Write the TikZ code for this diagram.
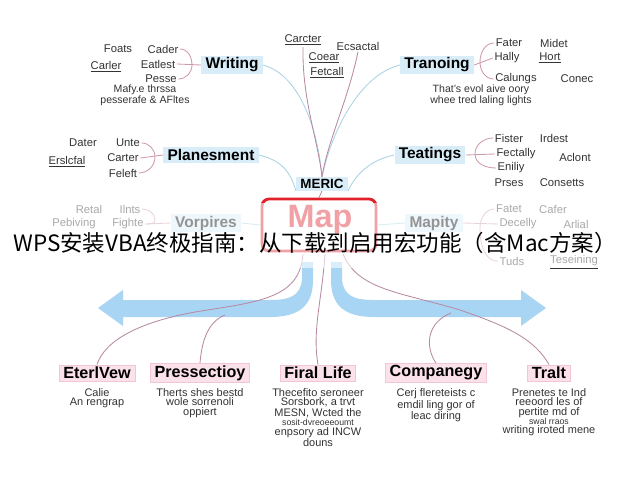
\documentclass[tikz,border=0pt]{standalone}
\usepackage{fontspec}
\setmainfont{Liberation Sans}
\newfontfamily\cjk{Noto Sans CJK SC}
\usetikzlibrary{shapes,positioning}
\definecolor{topicblue}{HTML}{D8EDF8}
\definecolor{linkblue}{HTML}{A9D3E3}
\definecolor{twigpink}{HTML}{CF9AAA}
\definecolor{stempink}{HTML}{B88AA2}
\definecolor{subpink}{HTML}{FBE2EA}
\definecolor{subedge}{HTML}{F2C6D4}
\definecolor{arrowblue}{HTML}{A8D5F4}
\definecolor{mapred}{HTML}{E0202A}
\definecolor{inkgray}{HTML}{333333}

\begin{document}
\begin{tikzpicture}[x=0.025cm,y=-0.025cm]
    \tikzstyle{topic}=[fill=topicblue, inner xsep=3pt, inner ysep=1.5pt, font=\fontsize{11}{12}\selectfont\bfseries]
    \tikzstyle{sub}=[fill=subpink, draw=subedge, line width=0.6pt, inner xsep=3pt, inner ysep=1.5pt, font=\fontsize{11.5}{12}\selectfont\bfseries]
    \tikzstyle{leaf}=[inner sep=1pt, font=\fontsize{8}{9}\selectfont, text=inkgray]
    \tikzstyle{note}=[align=center, inner sep=1pt, font=\fontsize{7.8}{6.6}\selectfont, text=inkgray]
    \tikzstyle{link}=[linkblue, line width=0.6pt]
    \tikzstyle{stem}=[stempink, line width=0.6pt]
    \tikzstyle{twig}=[twigpink, line width=0.6pt]

    \useasboundingbox (0,0) rectangle (640,480);
    \fill[white] (0,0) rectangle (640,480);

    \fill[arrowblue] (302,262) -- (302,280) .. controls (300,296) and (290,300) .. (270,300) -- (123,300) -- (123,290) -- (98,308) -- (123,326) -- (123,317) -- (270,317) .. controls (300,317) and (313,305) .. (313,280) -- (313,262) -- cycle;
    \fill[arrowblue] (342,262) -- (342,280) .. controls (344,296) and (354,300) .. (374,300) -- (521,300) -- (521,290) -- (546,308) -- (521,326) -- (521,317) -- (374,317) .. controls (344,317) and (331,305) .. (331,280) -- (331,262) -- cycle;

    \node[topic] (writing) at (232,65) {Writing};
    \node[topic] (tranoing) at (437,65) {Tranoing};
    \node[topic] (planesment) at (211,155) {Planesment};
    \node[topic] (teatings) at (430,155) {Teatings};
    \node[topic, font=\fontsize{9.5}{10}\selectfont\bfseries] (meric) at (322,184) {MERIC};
    \node[topic] (vorpires) at (206,223) {Vorpires};
    \node[topic] (mapity) at (434,223) {Mapity};
    \node[draw=mapred, line width=2pt, rounded corners=5pt, minimum width=2.85cm, minimum height=1.3cm] (map) at (319,225) {};
    \node[text=mapred, inner sep=0pt, font=\fontsize{23}{24}\selectfont\bfseries] (maplabel) at (320,220) {Map};

    \node[leaf] (w1) at (118,49) {Foats};
    \node[leaf] (w2) at (163,49) {Cader};
    \node[leaf] (w3) at (106,67) {\underline{Carler}};
    \node[leaf] (w4) at (158,64) {Eatlest};
    \node[leaf] (w5) at (161,79) {Pesse};
    \node[note, font=\fontsize{7.5}{6.6}\selectfont] (w6) at (145,95) {Mafy.e thrssa\\pesserafe \& AFltes};
    \coordinate (wj) at (192,65);
    \draw[twig] (w2.east) to[out=0,in=90] (wj) to[out=-90,in=0] (w5.east);
    \draw[twig] (w4.east) -- (writing.west);

    \node[leaf] (c1) at (303,40) {\underline{Carcter}};
    \node[leaf] (c2) at (358,46) {Ecsactal};
    \node[leaf] (c3) at (324,58) {\underline{Coear}};
    \node[leaf] (c4) at (327,73) {\underline{Fetcall}};

    \node[leaf] (t1) at (509,43) {Fater};
    \node[leaf] (t2) at (554,43) {Midet};
    \node[leaf] (t3) at (507,58) {Hally};
    \node[leaf] (t4) at (550,58) {\underline{Hort}};
    \node[leaf] (t5) at (516,79) {Calungs};
    \node[leaf] (t6) at (577,79) {Conec};
    \node[note, font=\fontsize{7.5}{6.6}\selectfont] (t7) at (481,95) {That's evol aive oory\\whee tred laling lights};
    \coordinate (tj) at (480,62);
    \draw[twig] (t1.west) to[out=180,in=90] (tj) to[out=-90,in=180] (t5.west);
    \draw[twig] (t3.west) -- (tranoing.east);

    \node[leaf] (p1) at (83,143) {Dater};
    \node[leaf] (p2) at (128,143) {Unte};
    \node[leaf] (p3) at (67,162) {\underline{Erslcfal}};
    \node[leaf] (p4) at (123,158) {Carter};
    \node[leaf] (p5) at (123,173) {Feleft};
    \coordinate (pj) at (155,157);
    \draw[twig] (p2.east) to[out=0,in=90] (pj) to[out=-90,in=0] (p5.east);
    \draw[twig] (p4.east) -- (planesment.west);

    \node[leaf] (e1) at (509,138) {Fister};
    \node[leaf] (e2) at (554,138) {Irdest};
    \node[leaf] (e3) at (516,154) {Fectally};
    \node[leaf] (e4) at (575,157) {Aclont};
    \node[leaf] (e5) at (511,168) {Eniliy};
    \node[leaf] (e6) at (509,183) {Prses};
    \node[leaf] (e7) at (562,183) {Consetts};
    \coordinate (ej) at (475,154);
    \draw[twig] (e1.west) to[out=180,in=90] (ej) to[out=-90,in=180] (e5.west);
    \draw[twig] (e3.west) -- (teatings.east);

    \node[leaf] (v1) at (89,209) {Retal};
    \node[leaf] (v2) at (130,209) {Ilnts};
    \node[leaf] (v3) at (74,224) {Pebiving};
    \node[leaf] (v4) at (128,224) {Fighte};
    \coordinate (vj) at (155,220);
    \draw[twig] (v2.east) to[out=0,in=90] (vj) to[out=-90,in=0] (v4.east);
    \draw[twig] (v4.east) -- (vorpires.west);

    \node[leaf] (m1) at (509,209) {Fatet};
    \node[leaf] (m2) at (553,209) {Cafer};
    \node[leaf] (m3) at (518,224) {Decelly};
    \node[leaf] (m4) at (576,224) {Arlial};
    \node[leaf] (m5) at (512,261) {Tuds};
    \node[leaf] (m6) at (574,262) {\underline{Teseining}};
    \coordinate (mj) at (480,228);
    \draw[twig] (m1.west) to[out=180,in=90] (mj) to[out=-90,in=180] (m5.west);
    \draw[twig] (m3.west) -- (mapity.east);

    \draw[link] (vorpires.east) -- (map.west);
    \draw[link] (mapity.west) -- (map.east);
    \draw[link] (writing.east) .. controls (300,75) and (318,130) .. (meric.north);
    \draw[link] (tranoing.west) .. controls (360,75) and (332,130) .. (meric.north);
    \draw[link] (planesment.east) .. controls (280,160) and (290,170) .. (meric.south west);
    \draw[link] (teatings.west) .. controls (370,160) and (355,175) .. (meric.south east);
    \draw[stem] (c1.south) .. controls (302,100) and (318,140) .. (meric.north);
    \draw[stem] (c2.south) .. controls (348,100) and (328,140) .. (meric.north);
    \draw[stem] (meric.south) -- (map.north);

    \node[sub] (eterlview) at (97,373) {EterlVew};
    \node[sub] (pressectioy) at (200,373) {Pressectioy};
    \node[sub] (firallife) at (318,373) {Firal Life};
    \node[sub] (companegy) at (436,373) {Companegy};
    \node[sub] (tralt) at (549,373) {Tralt};

    \node[note, anchor=north] (d1) at (97,387) {Calie\\An rengrap};
    \node[note, anchor=north] (d2) at (200,387) {Therts shes bestd\\wole sorrenoli\\oppiert};
    \node[note, anchor=north] (d3) at (318,387) {Thecefito seroneer\\Sorsbork, a trvt\\MESN, Wcted the\\{\fontsize{6.2}{6.6}\selectfont sosit-dvreoeeoumt}\\enpsory ad INCW\\douns};
    \node[note, anchor=north] (d4) at (436,387) {Cerj flereteists c\\emdil ling gor of\\leac diring};
    \node[note, anchor=north] (d5) at (549,387) {Prenetes te Ind\\reeoord les of\\pertite md of\\{\fontsize{6.2}{6.6}\selectfont swal rraos}\\writing iroted mene};

    \coordinate (s1) at (303,254);
    \coordinate (s2) at (225,315);
    \coordinate (s3) at (325,254);
    \coordinate (s4) at (451,313);
    \coordinate (s5) at (343,254);
    \draw[stem] (s1) .. controls (300,300) and (255,302) .. (195,312) .. controls (140,322) and (105,340) .. (eterlview.north);
    \draw[stem] (s2) .. controls (208,322) and (202,340) .. (pressectioy.north);
    \draw[stem] (s3) .. controls (322,300) and (312,330) .. (firallife.north);
    \draw[stem] (s4) .. controls (428,322) and (424,345) .. (companegy.north);
    \draw[stem] (s5) .. controls (358,290) and (400,292) .. (460,310) .. controls (510,327) and (535,340) .. (tralt.north);

    \fill[white, opacity=0.58] (0,203) rectangle (640,268);
    \node[font=\cjk\fontsize{16}{18}\selectfont, text=black] (title) at (315,243) {WPS安装VBA终极指南：从下载到启用宏功能（含Mac方案）};
\end{tikzpicture}
\end{document}
